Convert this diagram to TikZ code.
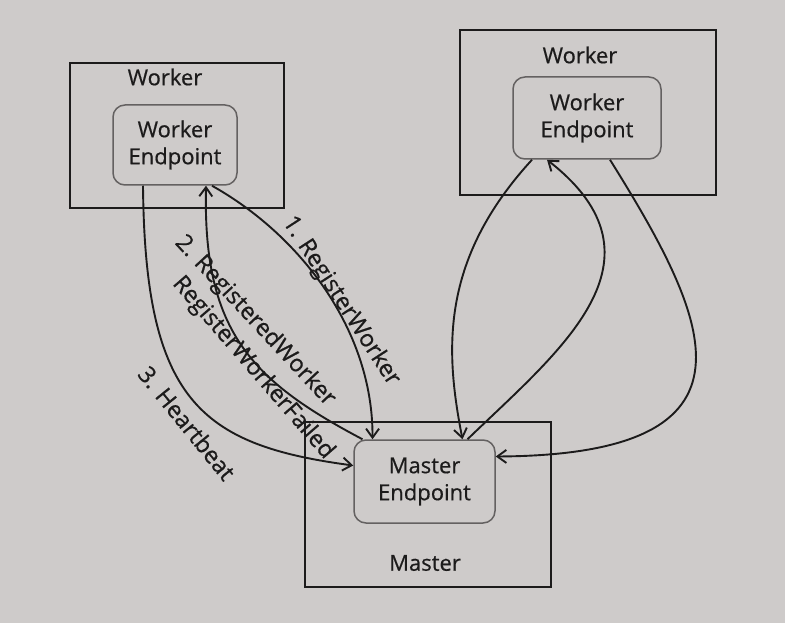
\documentclass[tikz,border=0pt]{standalone}
\usepackage{fontspec}
\setmainfont{Open Sans}
\newfontfamily\heavy{Open Sans}[FakeBold=0.6]
\usetikzlibrary{arrows.meta}
\definecolor{paper}{RGB}{206,203,202}
\definecolor{ink}{RGB}{28,27,27}
\definecolor{rim}{RGB}{100,97,97}
\begin{document}
\begin{tikzpicture}[x=1pt,y=-1pt,
  outerbox/.style={draw=ink,line width=2.1pt,inner sep=0pt},
  epbox/.style={draw=rim,line width=1.5pt,rounded corners=12pt,align=center,
    text=ink,font=\heavy\fontsize{22}{27}\selectfont,inner sep=0pt},
  boxlbl/.style={text=ink,font=\heavy\fontsize{22}{24}\selectfont,inner sep=0pt},
  msglbl/.style={text=ink,font=\heavy\fontsize{23.5}{26}\selectfont,inner sep=1pt},
  conn/.style={draw=ink,line width=1.9pt,
    -{Straight Barb[length=9pt,width=13pt,line width=1.9pt]}}]
\fill[paper] (0,0) rectangle (785,623);
\useasboundingbox (0,0) rectangle (785,623);
% left worker
\node[outerbox,minimum width=214pt,minimum height=145pt] (lw) at (177,135.5) {};
\node[boxlbl] (lwl) at (165,77) {Worker};
\node[epbox,minimum width=124pt,minimum height=80pt] (lwe) at (175,145) {Worker\\Endpoint};
% right worker
\node[outerbox,minimum width=256pt,minimum height=165pt] (rw) at (588,112.5) {};
\node[boxlbl] (rwl) at (580,55) {Worker};
\node[epbox,minimum width=148pt,minimum height=82pt] (rwe) at (587,118) {Worker\\Endpoint};
% master
\node[outerbox,minimum width=246pt,minimum height=165pt] (m) at (428,504.5) {};
\node[boxlbl] (ml) at (425,563) {Master};
\node[epbox,minimum width=141pt,minimum height=83pt] (me) at (424.5,481.5) {Master\\Endpoint};
% connectors left
\draw[conn] ([xshift=37pt]lwe.south) .. controls (300,235) and (373,330) .. ([xshift=-52pt]me.north);
\draw[conn] ([xshift=-62pt]me.north) .. controls (250,380) and (203,330) .. ([xshift=31pt]lwe.south);
\draw[conn] ([xshift=-32pt]lwe.south) .. controls (145,400) and (200,445) .. ([yshift=16pt]me.west);
% connectors right
\draw[conn] ([xshift=-55pt]rwe.south) .. controls (440,260) and (445,350) .. ([xshift=38pt]me.north);
\draw[conn] ([xshift=43pt]me.north) .. controls (560,350) and (675,260) .. ([xshift=-40pt]rwe.south);
\draw[conn] ([xshift=23pt]rwe.south) .. controls (710,320) and (775,455) .. ([yshift=25pt]me.east);
% labels
\node[msglbl,rotate=-57] (l1) at (341,301) {1. RegisterWorker};
\node[msglbl,rotate=-47] (l2) at (255,321) {2. RegisteredWorker};
\node[msglbl,rotate=-49] (l2b) at (253,368) {RegisterWorkerFailed};
\node[msglbl,rotate=-51] (l3) at (187,423) {3. Heartbeat};
\end{tikzpicture}
\end{document}
